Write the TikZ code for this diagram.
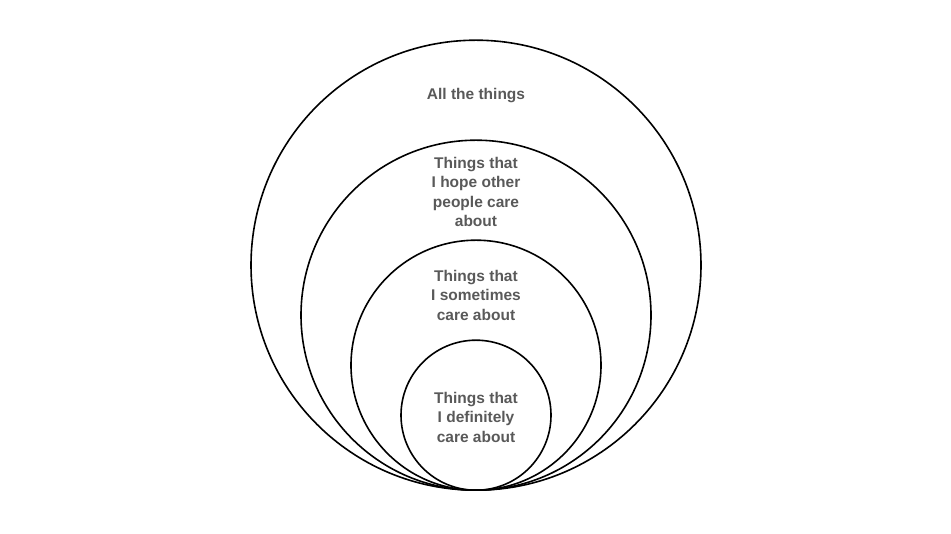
\documentclass[tikz,border=0pt]{standalone}
\usepackage{fontspec}
\setmainfont{Liberation Sans}
\definecolor{txt}{HTML}{595959}
\begin{document}
\begin{tikzpicture}[x=1pt,y=1pt,
  ring/.style={draw=black,line width=1.6pt},
  lbl/.style={text=txt,font=\bfseries\fontsize{15.5}{19.5}\selectfont,align=center}]
\useasboundingbox (0,0) rectangle (951,534);
\coordinate (base) at (476,43);
\node[ring,circle,minimum size=450pt,inner sep=0pt,anchor=south] (c1) at (base) {};
\node[ring,circle,minimum size=350pt,inner sep=0pt,anchor=south] (c2) at (base) {};
\node[ring,circle,minimum size=250pt,inner sep=0pt,anchor=south] (c3) at (base) {};
\node[ring,circle,minimum size=150pt,inner sep=0pt,anchor=south] (c4) at (base) {};
\node[lbl] (t1) at (476,438) {All the things};
\node[lbl] (t2) at (476,342) {Things that\\I hope other\\people care\\about};
\node[lbl] (t3) at (476,239) {Things that\\I sometimes\\care about};
\node[lbl] (t4) at (476,117) {Things that\\I definitely\\care about};
\end{tikzpicture}
\end{document}
